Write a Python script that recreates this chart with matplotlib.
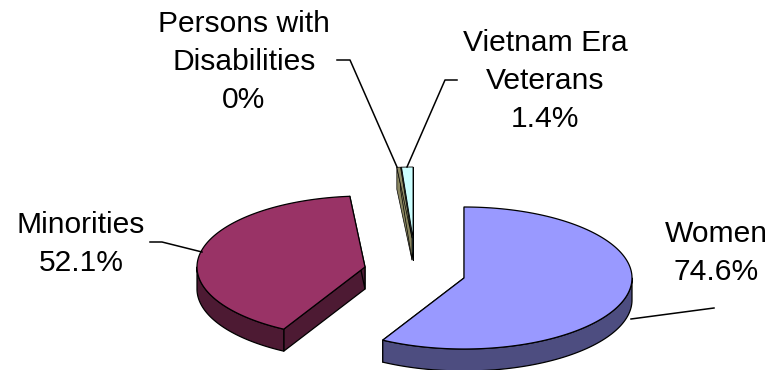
import numpy as np
import matplotlib
matplotlib.use('Agg')
import matplotlib.pyplot as plt
from matplotlib.patches import Polygon

plt.rcParams['font.family'] = ['Liberation Sans', 'DejaVu Sans']

# clockwise from 12 o'clock
categories = ['Women', 'Minorities', 'Persons with\nDisabilities', 'Vietnam Era\nVeterans']
values = [74.6, 52.1, 0.45, 1.4]
value_labels = ['74.6%', '52.1%', '0%', '1.4%']

top_colors = ['#9999ff', '#993366', '#8f8b66', '#ccffff']
side_colors = ['#4d4d80', '#4d1a33', '#8a8660', '#669999']

# pixel positions of each exploded slice
centers = [(464, 278), (365, 267), (412, 238), (413, 238)]
label_pos = [(716, 253), (81, 244), (244, 62), (545, 81)]
leaders = [[(631, 319), (714, 308)],
           [(150, 242), (162, 242), (202, 252)],
           [(337, 60), (350, 60), (397, 167)],
           [(457, 80), (445, 80), (407, 167)]]
edge_widths = [0.9, 0.9, 0.5, 0.6]

rx, ry, depth = 168, 71, 22

fig = plt.figure(figsize=(7.75, 3.7), dpi=100)
ax = fig.add_axes([0, 0, 1, 1])
ax.set_xlim(0, 775)
ax.set_ylim(370, 0)
ax.axis('off')

fracs = np.array(values) / sum(values)
ends = np.cumsum(fracs) * 2 * np.pi
starts = ends - fracs * 2 * np.pi


def arc(cx, cy, a0, a1):
    t = np.linspace(a0, a1, max(2, int((a1 - a0) * 60)))
    return np.column_stack([cx + rx * np.sin(t), cy - ry * np.cos(t)])


def poly(pts, color, z, lw):
    ax.add_patch(Polygon(pts, closed=True, facecolor=color, edgecolor='black',
                         linewidth=lw, joinstyle='round', zorder=z))


# back slices first so the front ones sit on top
for z, i in enumerate([3, 2, 1, 0]):
    cx, cy = centers[i]
    a0, a1 = starts[i], ends[i]
    lw = edge_widths[i]
    down = np.array([0, depth])
    c = np.array([cx, cy])
    p0 = arc(cx, cy, a0, a0)[0]
    p1 = arc(cx, cy, a1, a1)[0]
    # cut faces
    poly([p0, c, c + down, p0 + down], side_colors[i], z + 2, lw)
    poly([p1, c, c + down, p1 + down], side_colors[i], z + 2, lw)
    # rim, only the part that faces the viewer
    lo, hi = max(a0, np.pi / 2), min(a1, 3 * np.pi / 2)
    if hi > lo:
        rim = arc(cx, cy, lo, hi)
        poly(np.vstack([rim, (rim + down)[::-1]]), side_colors[i], z + 2, lw)
    poly(np.vstack([c, arc(cx, cy, a0, a1)]), top_colors[i], z + 2.1, lw)

for i, name in enumerate(categories):
    ax.text(label_pos[i][0], label_pos[i][1], name + '\n' + value_labels[i],
            ha='center', va='center', fontsize=21.6, linespacing=1.47, zorder=10)
    xs, ys = zip(*leaders[i])
    ax.plot(xs, ys, color='black', linewidth=1.1, zorder=9)

fig.savefig('out.png', dpi=100)
